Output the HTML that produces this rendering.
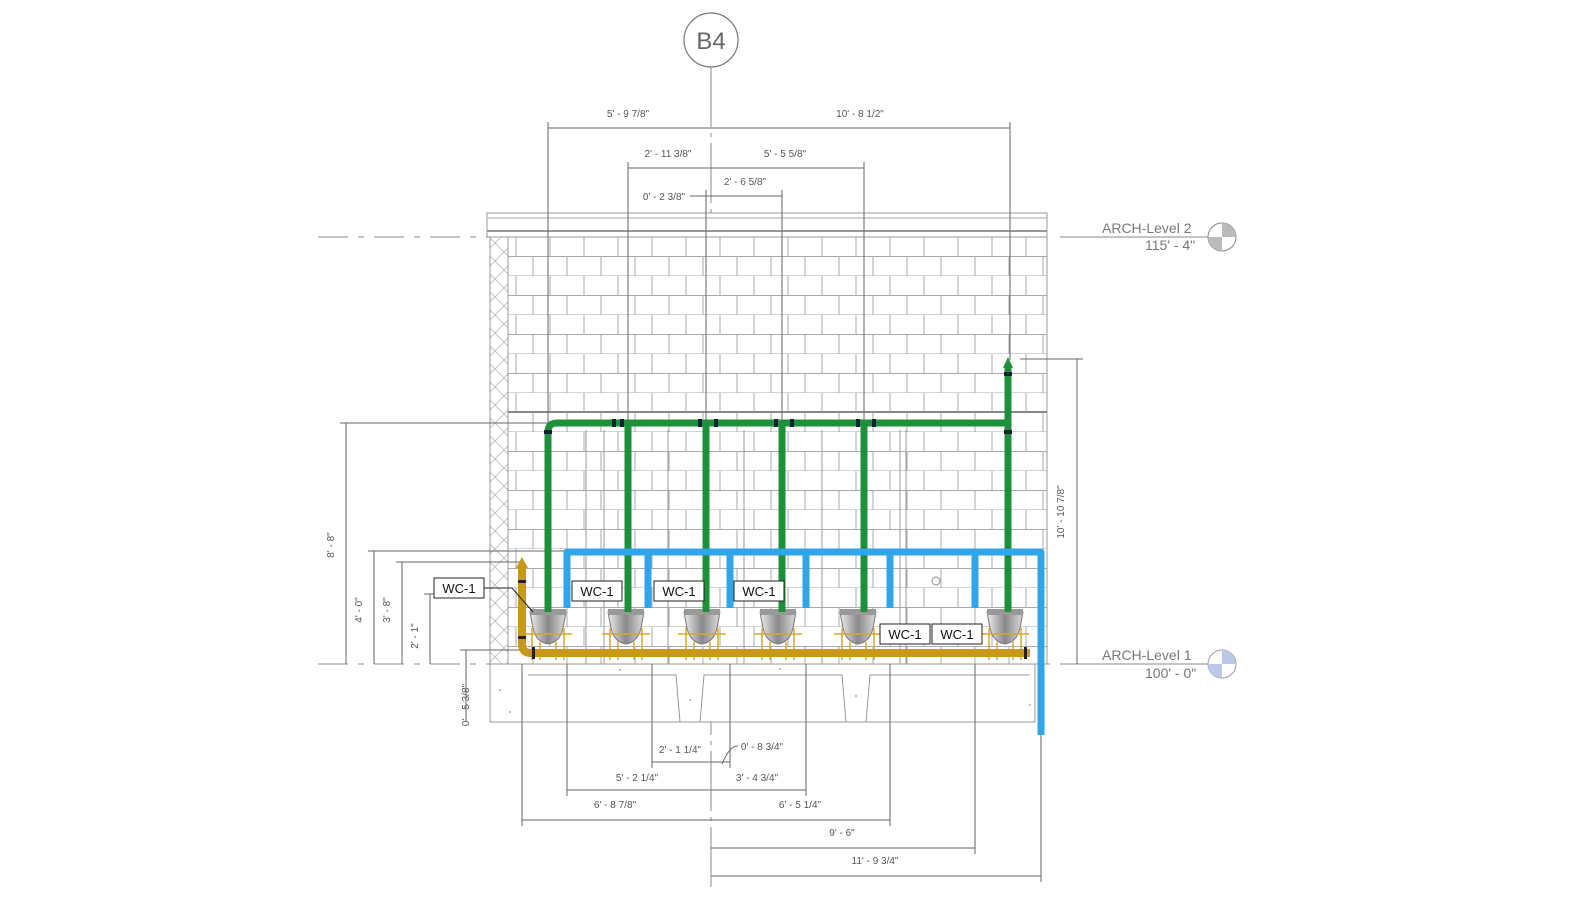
<!DOCTYPE html>
<html><head><meta charset="utf-8"><style>
html,body{margin:0;padding:0;background:#fff;}
svg{display:block;}
text{font-family:"Liberation Sans",sans-serif;}
.d{font-size:10px;fill:#555;}
.l{stroke:#666;stroke-width:1;fill:none;}
</style></head><body>
<svg width="1584" height="900" viewBox="0 0 1584 900" xmlns="http://www.w3.org/2000/svg">
<defs>
<pattern id="brick" x="508" y="237" width="68" height="39" patternUnits="userSpaceOnUse">
<rect width="68" height="39" fill="#fff"/>
<path d="M0 19.5H68M0 39H68M8 0V19.5M42 0V19.5M25 19.5V39M59 19.5V39" stroke="#aaa" stroke-width="1" fill="none"/>
</pattern>
<pattern id="hatch" width="18" height="18" patternUnits="userSpaceOnUse">
<path d="M0 0L18 18M18 0L0 18" stroke="#bbb" stroke-width="0.8"/>
</pattern>
<linearGradient id="bowl" x1="0" x2="1">
<stop offset="0" stop-color="#eee"/><stop offset="0.5" stop-color="#888"/><stop offset="1" stop-color="#ddd"/>
</linearGradient>
<g id="wc">
<path d="M-18 0H18L15 16Q12 30 0 32Q-12 30 -15 16Z" fill="url(#bowl)" stroke="#777"/>
<rect x="-18" y="-3" width="36" height="6" fill="#999"/>
<g stroke="#d9a820" stroke-width="1.5" fill="none">
<path d="M-24 22H24M-16 16V48M16 16V48M-8 30V48M8 30V48M-22 42H22"/>
</g>
</g>
</defs>

<!-- grid B4 -->
<circle cx="711" cy="40" r="27" fill="#fff" stroke="#777" stroke-width="1.2"/>
<text x="711" y="49" font-size="24" fill="#666" text-anchor="middle">B4</text>
<line x1="711" y1="67" x2="711" y2="890" stroke="#888" stroke-dasharray="60,6,4,6"/>

<!-- levels -->
<line x1="318" y1="237" x2="487" y2="237" stroke="#888" stroke-dasharray="30,10,6,10"/>
<line x1="1060" y1="237" x2="1208" y2="237" stroke="#888"/>
<line x1="318" y1="664" x2="1050" y2="664" stroke="#888" stroke-dasharray="30,10,6,10"/>
<line x1="1060" y1="664" x2="1208" y2="664" stroke="#888"/>
<text x="1102" y="233" font-size="14" fill="#777">ARCH-Level 2</text>
<text x="1145" y="250" font-size="14" fill="#777">115' - 4"</text>
<text x="1102" y="660" font-size="14" fill="#777">ARCH-Level 1</text>
<text x="1145" y="678" font-size="14" fill="#777">100' - 0"</text>
<g transform="translate(1222,237)"><circle r="14" fill="#fff" stroke="#888"/><path d="M0 0V-14A14 14 0 0 1 14 0Z M0 0V14A14 14 0 0 1 -14 0Z" fill="#bbb"/></g>
<g transform="translate(1222,664)"><circle r="14" fill="#fff" stroke="#99a"/><path d="M0 0V-14A14 14 0 0 1 14 0Z M0 0V14A14 14 0 0 1 -14 0Z" fill="#bcc8e8"/></g>

<!-- wall -->
<rect x="487" y="213" width="560" height="24" fill="#fff" stroke="#999"/>
<line x1="487" y1="218" x2="1047" y2="218" stroke="#aaa"/>
<line x1="487" y1="231" x2="1047" y2="231" stroke="#999" stroke-width="2"/>
<rect x="508" y="237" width="539" height="175" fill="url(#brick)" stroke="#999"/>
<rect x="508" y="412" width="539" height="252" fill="url(#brick)" stroke="#999"/>
<rect x="490" y="237" width="18" height="427" fill="url(#hatch)" stroke="#999"/>
<line x1="508" y1="412" x2="1047" y2="412" stroke="#888" stroke-width="2"/>
<g stroke="#999">
<line x1="586" y1="430" x2="586" y2="664"/><line x1="604" y1="430" x2="604" y2="664"/>
<line x1="668" y1="430" x2="668" y2="664"/><line x1="744" y1="430" x2="744" y2="664"/>
<line x1="822" y1="430" x2="822" y2="664"/><line x1="900" y1="430" x2="900" y2="664"/>
<line x1="906" y1="430" x2="906" y2="664"/>
</g>
<circle cx="936" cy="581" r="4" fill="none" stroke="#888"/>

<!-- slab -->
<rect x="490" y="664" width="545" height="58" fill="#fff" stroke="#999"/>
<path d="M528 675H676L680 722M700 722L704 675H842L846 722M866 722L870 675H1030" stroke="#999" fill="none"/>
<g fill="#aaa"><circle cx="500" cy="690" r="1"/><circle cx="510" cy="712" r="1"/><circle cx="690" cy="700" r="1"/><circle cx="856" cy="696" r="1"/><circle cx="1030" cy="705" r="1"/><circle cx="620" cy="670" r="1"/><circle cx="780" cy="669" r="1"/></g>

<!-- dimension lines -->
<g class="l">
<path d="M548 128H1010M548 122V430M1010 122V360"/>
<path d="M628 168H864M628 162V430M864 162V430"/>
<path d="M690 196H782M706 190V430M782 190V430"/>
<path d="M340 423H548M346 423V664"/>
<path d="M368 551H567M374 551V664"/>
<path d="M396 562H522M402 562V664"/>
<path d="M424 594H434M430 594V664"/>
<path d="M460 650H522M466 650V722"/>
<path d="M1020 359H1083M1077 359V664"/>
<path d="M652 762H730M652 664V768M730 664V768"/>
<path d="M567 790H806M567 664V796M806 664V796"/>
<path d="M522 820H890M522 664V826M890 664V826"/>
<path d="M711 848H975M975 664V854"/>
<path d="M711 876H1041M1041 735V882"/>
<path d="M722 764Q730 745 738 746"/>
</g>
<text class="d" x="628" y="117" text-anchor="middle">5' - 9 7/8"</text>
<text class="d" x="860" y="117" text-anchor="middle">10' - 8 1/2"</text>
<text class="d" x="668" y="157" text-anchor="middle">2' - 11 3/8"</text>
<text class="d" x="785" y="157" text-anchor="middle">5' - 5 5/8"</text>
<text class="d" x="745" y="185" text-anchor="middle">2' - 6 5/8"</text>
<text class="d" x="664" y="200" text-anchor="middle">0' - 2 3/8"</text>
<text class="d" x="680" y="753" text-anchor="middle">2' - 1 1/4"</text>
<text class="d" x="762" y="750" text-anchor="middle">0' - 8 3/4"</text>
<text class="d" x="637" y="781" text-anchor="middle">5' - 2 1/4"</text>
<text class="d" x="757" y="781" text-anchor="middle">3' - 4 3/4"</text>
<text class="d" x="615" y="808" text-anchor="middle">6' - 8 7/8"</text>
<text class="d" x="800" y="808" text-anchor="middle">6' - 5 1/4"</text>
<text class="d" x="842" y="836" text-anchor="middle">9' - 6"</text>
<text class="d" x="875" y="864" text-anchor="middle">11' - 9 3/4"</text>
<text class="d" transform="translate(334,545) rotate(-90)" text-anchor="middle">8' - 8"</text>
<text class="d" transform="translate(362,610) rotate(-90)" text-anchor="middle">4' - 0"</text>
<text class="d" transform="translate(390,610) rotate(-90)" text-anchor="middle">3' - 8"</text>
<text class="d" transform="translate(418,636) rotate(-90)" text-anchor="middle">2' - 1"</text>
<text class="d" transform="translate(469,705) rotate(-90)" text-anchor="middle">0' - 5 3/8"</text>
<text class="d" transform="translate(1064,512) rotate(-90)" text-anchor="middle">10' - 10 7/8"</text>

<!-- toilets -->
<use href="#wc" x="548" y="612"/><use href="#wc" x="626" y="612"/><use href="#wc" x="702" y="612"/>
<use href="#wc" x="778" y="612"/><use href="#wc" x="858" y="612"/><use href="#wc" x="1005" y="612"/>

<!-- green vent -->
<g stroke="#1e8f3a" stroke-width="7" fill="none" stroke-linejoin="round">
<path d="M548 612V432Q548 423 557 423H1008"/>
<path d="M628 612V423M706 612V423M782 612V423M864 612V423"/>
<path d="M1008 612V366"/>
</g>
<path d="M1003 368L1008 357L1013 368Z" fill="#1e8f3a"/>
<g fill="#123">
<rect x="612" y="419" width="4" height="8"/><rect x="620" y="419" width="4" height="8"/><rect x="698" y="419" width="4" height="8"/><rect x="714" y="419" width="4" height="8"/><rect x="774" y="419" width="4" height="8"/><rect x="790" y="419" width="4" height="8"/><rect x="856" y="419" width="4" height="8"/><rect x="872" y="419" width="4" height="8"/><rect x="1004" y="372" width="8" height="4"/><rect x="1004" y="430" width="8" height="4"/><rect x="544" y="430" width="8" height="4"/>
</g>

<!-- blue -->
<g stroke="#2ea6e8" stroke-width="7" fill="none" stroke-linejoin="round">
<path d="M567 608V552H1041V735"/>
<path d="M648 608V552M730 608V552M806 608V552M890 608V552M975 608V552"/>
</g>

<!-- yellow -->
<g stroke="#c8981a" stroke-width="8" fill="none" stroke-linejoin="round">
<path d="M522 566V644Q522 653 531 653H1030"/>
</g>
<path d="M516 568L522 557L528 568Z" fill="#c8981a"/>
<g fill="#222"><rect x="518" y="580" width="8" height="3"/><rect x="518" y="636" width="8" height="3"/><rect x="532" y="647" width="3" height="12"/><rect x="1024" y="647" width="3" height="12"/></g>

<!-- labels -->
<g font-size="13" fill="#111">
<rect x="434" y="578" width="50" height="20" fill="#fff" stroke="#222"/><text x="459" y="593" text-anchor="middle">WC-1</text>
<rect x="572" y="581" width="50" height="20" fill="#fff" stroke="#222"/><text x="597" y="596" text-anchor="middle">WC-1</text>
<rect x="654" y="581" width="50" height="20" fill="#fff" stroke="#222"/><text x="679" y="596" text-anchor="middle">WC-1</text>
<rect x="734" y="581" width="50" height="20" fill="#fff" stroke="#222"/><text x="759" y="596" text-anchor="middle">WC-1</text>
<rect x="880" y="624" width="50" height="20" fill="#fff" stroke="#222"/><text x="905" y="639" text-anchor="middle">WC-1</text>
<rect x="932" y="624" width="50" height="20" fill="#fff" stroke="#222"/><text x="957" y="639" text-anchor="middle">WC-1</text>
</g>
<path d="M484 588H512L533 612" stroke="#222" fill="none"/>
</svg>
</body></html>
